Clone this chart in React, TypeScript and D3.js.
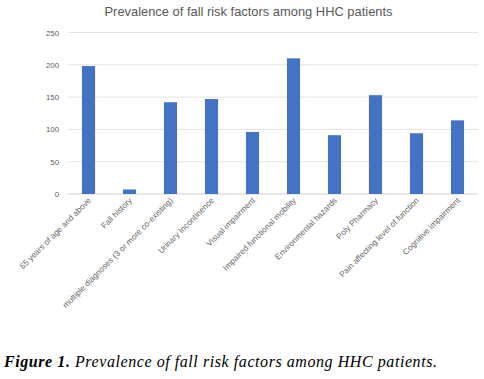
import React from "react";
import * as d3 from "d3";

const categories = [
  "65 years of age and above",
  "Fall history",
  "multiple diagnoses (3 or more co-existing)",
  "Urinary Incontinence",
  "Visual impairment",
  "Impaired functional mobility",
  "Environmental hazards",
  "Poly Pharmacy",
  "Pain affecting level of function",
  "Cognitive impairment",
];
const values = [198, 7, 142, 147, 96, 210, 91, 153, 94, 114];
const yTicks = [0, 50, 100, 150, 200, 250];
const title = "Prevalence of fall risk factors among HHC patients";

const W = 484;
const H = 379;
const left = 68;
const right = 478;
const top = 32.5;
const bottom = 194;

export default function App() {
  const x = d3.scaleBand<string>().domain(categories).range([left, right]).paddingInner(0.68).paddingOuter(0.34);
  const y = d3.scaleLinear().domain([0, 250]).range([bottom, top]);
  const font = "'Liberation Sans', Arial, sans-serif";
  return (
    <svg width={W} height={H} style={{ position: "absolute", left: 0, top: 0, background: "#fff" }}>
      <text x={248.5} y={16} textAnchor="middle" fontFamily={font} fontSize={12.9} fill="#595959">
        {title}
      </text>
      {yTicks.map((t) => (
        <g key={t}>
          <line x1={left} x2={right} y1={y(t)} y2={y(t)} stroke={t === 0 ? "#d0d0d0" : "#e4e4e4"} strokeWidth={1} />
          <text x={59} y={y(t) + 3} textAnchor="end" fontFamily={font} fontSize={7.8} fill="#595959">
            {t}
          </text>
        </g>
      ))}
      {categories.map((c, i) => (
        <rect key={c} x={x(c)!} width={x.bandwidth()} y={y(values[i])} height={bottom - y(values[i])} fill="#4472C4" />
      ))}
      {categories.map((c) => {
        const cx = x(c)! + x.bandwidth() / 2 + 3;
        const cy = bottom + 7;
        return (
          <text
            key={c}
            x={cx}
            y={cy}
            textAnchor="end"
            fontFamily={font}
            fontSize={8.2}
            fill="#666666"
            transform={`rotate(-45 ${cx} ${cy})`}
          >
            {c}
          </text>
        );
      })}
      <text
        x={4}
        y={367}
        fontFamily="'Liberation Serif', 'Times New Roman', serif"
        fontSize={16}
        fontStyle="italic"
        fill="#000"
        textLength={433}
        lengthAdjust="spacing"
      >
        <tspan fontWeight="bold">Figure 1.</tspan> Prevalence of fall risk factors among HHC patients.
      </text>
    </svg>
  );
}
